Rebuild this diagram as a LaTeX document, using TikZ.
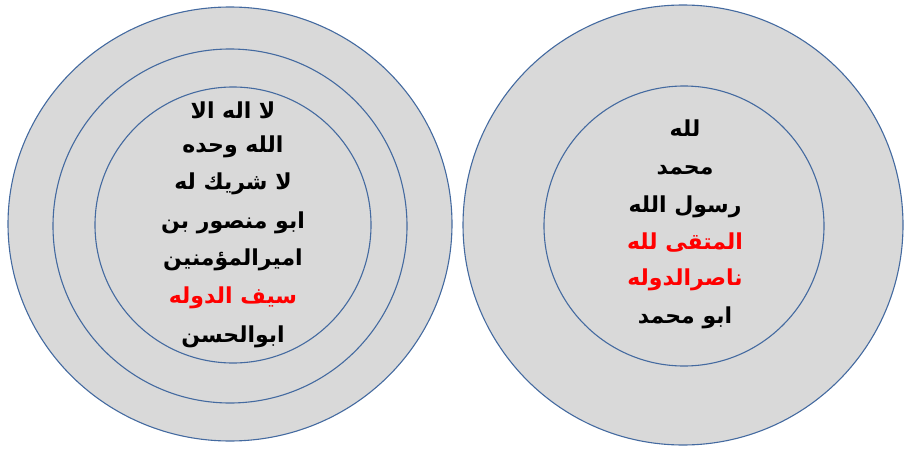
\documentclass[tikz,border=0pt]{standalone}
\usepackage{fontspec}
\newfontfamily\arabicfont[Script=Arabic]{DejaVu Sans}
\TeXXeTstate=1
\usepackage{tikz}
\definecolor{coinfill}{RGB}{217,217,217}
\definecolor{coinedge}{RGB}{68,106,160}
\tikzset{coin/.style={draw=coinedge, fill=coinfill, line width=1.1pt},
ring/.style={draw=coinedge, line width=1.1pt},
legend/.style={font=\arabicfont\bfseries\fontsize{22}{22}\selectfont, inner sep=0pt}}

\begin{document}
\begin{tikzpicture}[x=1pt,y=1pt]
\useasboundingbox (0,0) rectangle (904,448);

% left coin
\draw[coin] (230,224) ellipse [x radius=222, y radius=217];
\draw[ring] (230,222) circle[radius=177];
\draw[ring] (233,223) circle[radius=138];

% right coin
\draw[coin] (683,223) circle[radius=220];
\draw[ring] (684,222) circle[radius=140];

\node[legend] (la) at (233,338) {\beginR لا اله الا\endR};
\node[legend] (lb) at (233,301) {\beginR الله وحده\endR};
\node[legend] (lc) at (233,264) {\beginR لا شريك له\endR};
\node[legend] (ld) at (233,225) {\beginR ابو منصور بن\endR};
\node[legend] (le) at (233,188) {\beginR اميرالمؤمنين\endR};
\node[legend,color=red] (lf) at (233,150) {\beginR سيف الدوله\endR};
\node[legend] (lg) at (233,111) {\beginR ابوالحسن\endR};

\node[legend] (ra) at (685,320) {\beginR لله\endR};
\node[legend] (rb) at (685,278) {\beginR محمد\endR};
\node[legend] (rc) at (685,241) {\beginR رسول الله\endR};
\node[legend,color=red] (rd) at (685,205) {\beginR المتقى لله\endR};
\node[legend,color=red] (re) at (685,168) {\beginR ناصرالدوله\endR};
\node[legend] (rf) at (685,130) {\beginR ابو محمد\endR};
\end{tikzpicture}
\end{document}
